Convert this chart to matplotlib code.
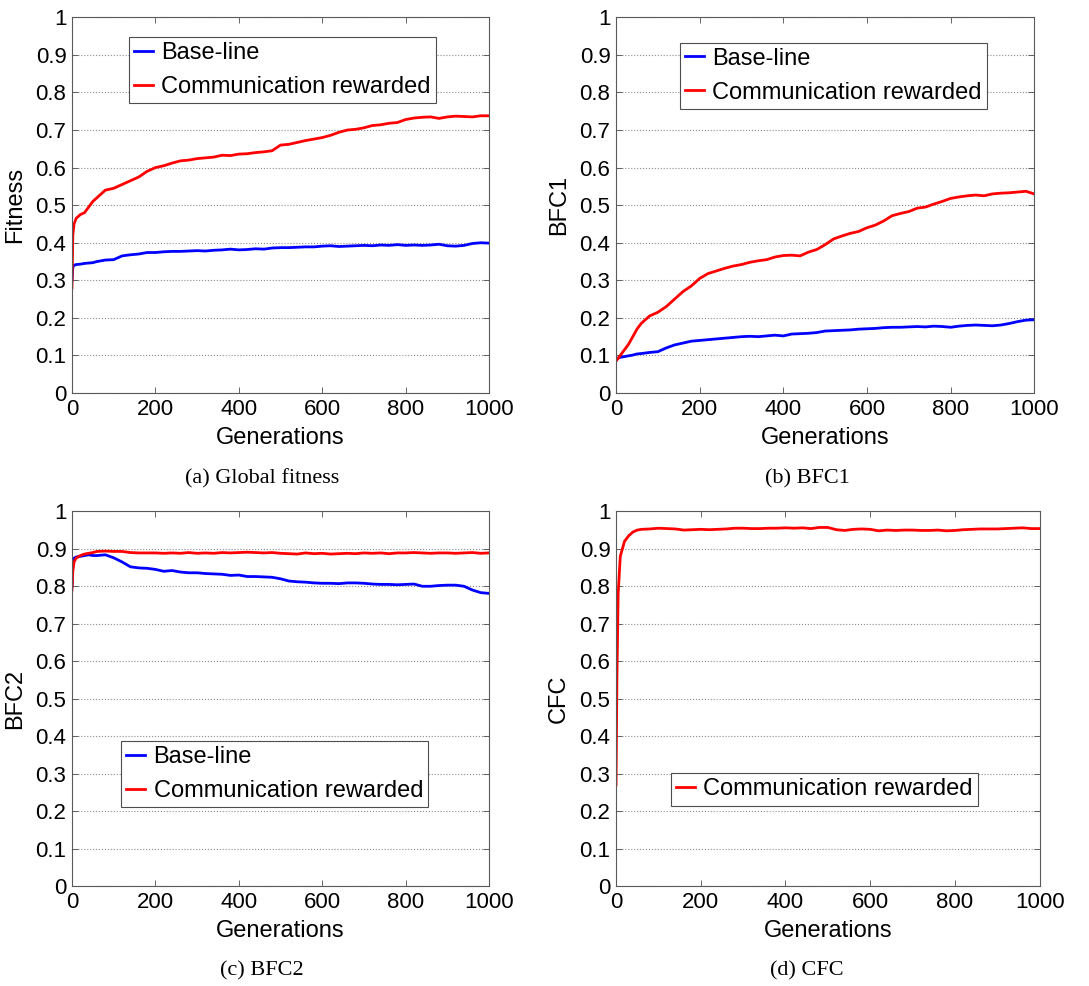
import matplotlib
matplotlib.use("Agg")
import matplotlib.pyplot as plt
import numpy as np

# ── Data ──────────────────────────────────────────────────────────────────────

GEN = [0, 2, 5, 10, 20, 30, 40, 50, 60, 80, 100, 120, 140, 160, 180, 200,
       220, 240, 260, 280, 300, 320, 340, 360, 380, 400, 420, 440, 460, 480,
       500, 520, 540, 560, 580, 600, 620, 640, 660, 680, 700, 720, 740, 760,
       780, 800, 820, 840, 860, 880, 900, 920, 940, 960, 980, 1000]

fitness_base = [0.300, 0.335, 0.340, 0.342, 0.343, 0.345, 0.346, 0.347, 0.350, 0.354,
                0.355, 0.365, 0.368, 0.370, 0.374, 0.374, 0.376, 0.377, 0.377, 0.378,
                0.379, 0.378, 0.380, 0.381, 0.383, 0.381, 0.382, 0.384, 0.383, 0.386,
                0.387, 0.387, 0.388, 0.389, 0.389, 0.391, 0.392, 0.390, 0.391, 0.392,
                0.393, 0.392, 0.394, 0.393, 0.395, 0.393, 0.394, 0.393, 0.394, 0.396,
                0.392, 0.391, 0.393, 0.398, 0.400, 0.399]
fitness_comm = [0.280, 0.420, 0.450, 0.465, 0.475, 0.480, 0.495, 0.510, 0.520, 0.540,
                0.545, 0.555, 0.565, 0.575, 0.590, 0.600, 0.605, 0.612, 0.618, 0.620,
                0.624, 0.626, 0.628, 0.633, 0.632, 0.636, 0.637, 0.640, 0.642, 0.645,
                0.660, 0.662, 0.667, 0.672, 0.676, 0.680, 0.686, 0.694, 0.700, 0.702,
                0.706, 0.712, 0.714, 0.718, 0.720, 0.728, 0.732, 0.734, 0.735, 0.731,
                0.735, 0.737, 0.736, 0.735, 0.738, 0.738]

bfc1_base = [0.090, 0.092, 0.093, 0.095, 0.097, 0.099, 0.101, 0.104, 0.105, 0.108,
             0.110, 0.120, 0.128, 0.133, 0.138, 0.140, 0.142, 0.144, 0.146, 0.148,
             0.150, 0.151, 0.150, 0.152, 0.154, 0.152, 0.157, 0.158, 0.159, 0.161,
             0.165, 0.166, 0.167, 0.168, 0.170, 0.171, 0.172, 0.174, 0.175, 0.175,
             0.176, 0.177, 0.176, 0.178, 0.177, 0.175, 0.178, 0.180, 0.181, 0.180,
             0.179, 0.181, 0.185, 0.190, 0.194, 0.195]
bfc1_comm = [0.085, 0.088, 0.092, 0.100, 0.115, 0.130, 0.150, 0.170, 0.185, 0.205,
             0.215, 0.230, 0.250, 0.270, 0.285, 0.305, 0.318, 0.325, 0.332, 0.338,
             0.342, 0.348, 0.352, 0.355, 0.362, 0.366, 0.367, 0.365, 0.375, 0.382,
             0.395, 0.410, 0.418, 0.425, 0.430, 0.440, 0.447, 0.458, 0.472, 0.478,
             0.483, 0.492, 0.495, 0.503, 0.510, 0.518, 0.522, 0.525, 0.527, 0.525,
             0.530, 0.532, 0.533, 0.535, 0.537, 0.530]

bfc2_base = [0.800, 0.860, 0.875, 0.878, 0.880, 0.882, 0.884, 0.882, 0.882, 0.884,
             0.876, 0.865, 0.852, 0.849, 0.848, 0.845, 0.840, 0.842, 0.838, 0.836,
             0.836, 0.834, 0.833, 0.832, 0.829, 0.830, 0.826, 0.826, 0.825, 0.824,
             0.820, 0.814, 0.812, 0.811, 0.809, 0.808, 0.808, 0.807, 0.809, 0.809,
             0.808, 0.806, 0.805, 0.805, 0.804, 0.805, 0.806, 0.800, 0.800, 0.802,
             0.803, 0.803, 0.800, 0.790, 0.783, 0.781]
bfc2_comm = [0.790, 0.840, 0.865, 0.875, 0.882, 0.886, 0.888, 0.890, 0.893, 0.894,
             0.893, 0.893, 0.890, 0.889, 0.889, 0.889, 0.888, 0.889, 0.888, 0.890,
             0.888, 0.889, 0.888, 0.890, 0.889, 0.890, 0.891, 0.890, 0.889, 0.890,
             0.888, 0.887, 0.886, 0.889, 0.887, 0.888, 0.886, 0.887, 0.888, 0.887,
             0.889, 0.888, 0.889, 0.887, 0.889, 0.889, 0.890, 0.889, 0.888, 0.889,
             0.889, 0.888, 0.889, 0.890, 0.888, 0.889]

cfc_comm = [0.270, 0.550, 0.780, 0.880, 0.920, 0.935, 0.945, 0.950, 0.952, 0.953,
            0.955, 0.954, 0.953, 0.950, 0.951, 0.952, 0.951, 0.952, 0.953, 0.955,
            0.955, 0.954, 0.954, 0.955, 0.955, 0.956, 0.955, 0.956, 0.954, 0.957,
            0.957, 0.951, 0.949, 0.952, 0.953, 0.952, 0.948, 0.950, 0.949, 0.950,
            0.950, 0.949, 0.949, 0.950, 0.948, 0.949, 0.951, 0.952, 0.953, 0.953,
            0.953, 0.954, 0.955, 0.956, 0.954, 0.954]

X_TICKS = [0, 200, 400, 600, 800, 1000]
Y_TICKS = [0, 0.1, 0.2, 0.3, 0.4, 0.5, 0.6, 0.7, 0.8, 0.9, 1]
Y_TICKLABELS = ["0", "0.1", "0.2", "0.3", "0.4", "0.5", "0.6", "0.7", "0.8", "0.9", "1"]

BASE_LABEL = "Base-line"
COMM_LABEL = "Communication rewarded"

# ── Plotting ──────────────────────────────────────────────────────────────────

SANS = "Liberation Sans"
SERIF = "Liberation Serif"


def style_axes(ax, ylabel):
    ax.set_xlim(0, 1000)
    ax.set_ylim(0, 1)
    ax.set_xticks(X_TICKS)
    ax.set_yticks(Y_TICKS)
    ax.set_yticklabels(Y_TICKLABELS)
    ax.tick_params(direction="in", top=True, right=True, labelsize=16,
                   length=4, width=0.6, color="0.3", pad=4)
    for lbl in ax.get_xticklabels() + ax.get_yticklabels():
        lbl.set_family(SANS)
    ax.grid(axis="y", linestyle=":", color="0.55", linewidth=0.8)
    for sp in ax.spines.values():
        sp.set_color("0.35")
        sp.set_linewidth(0.8)
    ax.set_xlabel("Generations", fontsize=17, family=SANS)
    ax.set_ylabel(ylabel, fontsize=17, family=SANS)
    ax.xaxis.set_label_coords(0.5, -0.09)
    ax.yaxis.set_label_coords(-0.11, 0.5)


def add_legend(ax, anchor):
    leg = ax.legend(loc="upper left", bbox_to_anchor=anchor, borderaxespad=0,
                    prop={"family": SANS, "size": 17}, fancybox=False,
                    framealpha=1, edgecolor="0.3", handlelength=0.8,
                    handletextpad=0.35, labelspacing=0.5, borderpad=0.22)
    leg.get_frame().set_linewidth(0.8)


fig = plt.figure(figsize=(10.89, 9.86), dpi=100)

ax_a = fig.add_axes([0.0661, 0.6014, 0.383, 0.381])
ax_b = fig.add_axes([0.5657, 0.6014, 0.384, 0.381])
ax_c = fig.add_axes([0.0661, 0.1014, 0.383, 0.380])
ax_d = fig.add_axes([0.5657, 0.1014, 0.389, 0.380])

lw = 2.0
ax_a.plot(GEN, fitness_base, color="blue", lw=lw, label=BASE_LABEL)
ax_a.plot(GEN, fitness_comm, color="red", lw=lw, label=COMM_LABEL)
style_axes(ax_a, "Fitness")
add_legend(ax_a, (0.137, 0.947))

ax_b.plot(GEN, bfc1_base, color="blue", lw=lw, label=BASE_LABEL)
ax_b.plot(GEN, bfc1_comm, color="red", lw=lw, label=COMM_LABEL)
style_axes(ax_b, "BFC1")
add_legend(ax_b, (0.153, 0.933))

ax_c.plot(GEN, bfc2_base, color="blue", lw=lw, label=BASE_LABEL)
ax_c.plot(GEN, bfc2_comm, color="red", lw=lw, label=COMM_LABEL)
style_axes(ax_c, "BFC2")
add_legend(ax_c, (0.118, 0.387))

ax_d.plot(GEN, cfc_comm, color="red", lw=lw, label=COMM_LABEL)
style_axes(ax_d, "CFC")
add_legend(ax_d, (0.130, 0.301))

captions = [("(a) Global fitness", 262, 479), ("(b) BFC1", 807, 479),
            ("(c) BFC2", 262, 971), ("(d) CFC", 807, 971)]
for text, px, py in captions:
    fig.text(px / 1089, 1 - py / 986, text, ha="center", va="center",
             fontsize=16, family=SERIF)

fig.savefig("out.png", dpi=100)
